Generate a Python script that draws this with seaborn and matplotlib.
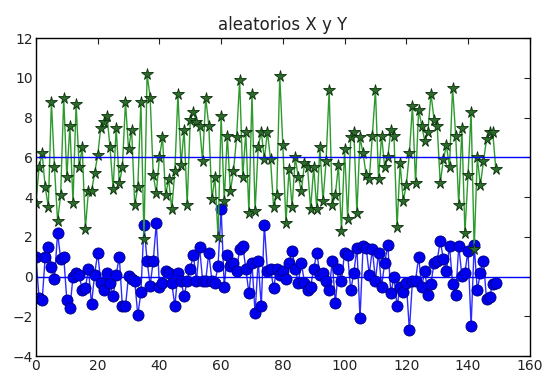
import numpy as np
import matplotlib
matplotlib.use("Agg")
import matplotlib.pyplot as plt
import seaborn as sns

# green series (stars)
serie_y = [3.7, 5.5, 6.2, 4.5, 3.5, 8.8, 5.5, 2.8, 4.1, 9.0,
           5.0, 7.6, 3.7, 8.7, 5.5, 6.5, 2.4, 4.3, 4.3, 5.2,
           6.1, 7.5, 7.8, 8.1, 6.5, 4.4, 7.5, 4.7,
           5.5, 8.8, 6.4, 7.4, 3.6, 4.5, 8.8, 1.9, 10.2, 9.0,
           5.1, 4.2, 6.0, 7.0, 4.1, 4.9, 3.4, 5.3, 9.2, 5.6,
           7.4, 3.6, 7.9, 8.3, 7.8, 7.6, 5.8,
           9.0, 7.6, 3.9, 5.0, 2.0, 8.1, 3.8, 7.1, 4.3, 5.3,
           7.0, 9.9, 5.0, 7.3, 3.2, 9.2, 3.3, 6.5, 7.3, 5.9,
           7.3, 5.9, 3.5, 4.1, 10.1, 6.6, 2.7, 5.4,
           3.5, 6.0, 5.0, 4.3, 5.7, 5.5, 3.4, 5.5, 3.4, 6.5,
           3.8, 5.8, 9.4, 3.6, 4.1, 5.6, 2.3, 6.4, 2.9, 7.0,
           7.3, 3.2, 7.0, 6.2, 5.1, 4.9, 7.1, 9.4,
           4.9, 7.1, 5.5, 6.0, 7.4, 7.1, 2.5, 5.7, 3.8, 4.6,
           6.2, 8.6, 4.7, 8.4, 7.6, 6.8, 7.3, 9.2, 7.9, 7.6,
           4.7, 5.9, 6.6, 5.5,
           9.5, 7.1, 3.6, 7.5, 2.2, 5.1, 8.3, 1.4, 6.0, 4.6,
           5.8, 6.9, 7.3, 7.3, 5.4]

# blue series (circles)
serie_x = [1.0, -1.1, -1.2, 1.0, 1.5, 0.5, -0.1, 2.2, 0.9, 1.0,
           -1.2, -1.6, 0.0, 0.2, 0.1, -0.7, -0.6, 0.4, -1.4, 0.1,
           1.2, -0.3, -0.7, 0.2, -0.3, -1.0, 0.1, 1.0,
           -1.5, -1.5, 0.05, -0.1, -0.2, -1.95, -0.8, 2.6, 0.8, -0.45,
           0.8, 2.7, -0.5, -0.3, 0.3, 0.2, -0.3, -1.5, 0.2, -0.2,
           -1.0, -0.2, 0.4, 1.1, -0.2, 1.5,
           -0.2, -0.2, 1.2, -0.2, -0.3, 0.55, 3.4, -0.5, 1.1, 0.55,
           0.7, 0.3, 1.4, 1.55, 0.4, -0.85, 0.7, -1.85, 0.8, -1.5,
           2.6, 0.3, 0.4, -0.6, 0.4, 0.1, 0.3,
           -0.1, 0.7, 1.3, 0.4, -0.3, 0.7, -0.3, -0.7, -0.5, 0.4,
           1.2, 0.1, 0.2, -0.2, -0.7, 0.8, -1.35, 0.4, -0.2, 1.2,
           1.1, -0.7, 0.2, 1.45, -2.1, 1.55, 1.45, 0.1,
           1.4, -0.2, 1.2, -0.5, 0.7, 1.6, -0.85, 0.0, -1.5, -0.5,
           -0.8, -0.3, -2.7, -0.2, -0.2, 1.0, -0.5, 0.3, -0.95, -0.35,
           0.7, 0.8, 1.8, 0.9, 0.3, 1.55,
           -0.35, -0.95, 1.55, 0.05, 0.2, 1.3, -2.5, 1.6, -0.7, 0.2,
           0.8, -1.15, -1.05, -0.35, -0.3]

niveles = [0, 6]
titulo = "aleatorios X y Y"

idx_y = np.arange(len(serie_y))
idx_x = np.arange(len(serie_x))

sns.set_style("white")
plt.rcParams['font.family'] = ['DejaVu Sans']

fig = plt.figure(figsize=(5.45, 3.74), dpi=100)
ax = fig.add_axes([0.066, 0.048, 0.906, 0.85])

sns.lineplot(x=idx_x, y=serie_x, ax=ax, color='#2b2bff', marker='o',
             markersize=8, markeredgecolor='#000080', markeredgewidth=0.6,
             markerfacecolor='#0000ee', linewidth=1.0)
sns.lineplot(x=idx_y, y=serie_y, ax=ax, color='#2e9a2e', marker='*',
             markersize=8.5, markeredgecolor='#0a300a', markeredgewidth=0.6,
             markerfacecolor='#2d6b2d', linewidth=1.0)

for n in niveles:
    ax.axhline(n, color='#0000ff', linewidth=1.0)

ax.set_xlim(0, 160)
ax.set_ylim(-4, 12)
ax.set_xticks(range(0, 161, 20))
ax.set_yticks(range(-4, 13, 2))
ax.tick_params(direction='in', top=True, right=True, length=4, labelsize=10,
               colors='#222222', pad=2)
for s in ax.spines.values():
    s.set_color('black')
    s.set_linewidth(1.0)
ax.set_title(titulo, fontsize=12, color='#222222')

fig.savefig('out.png', dpi=100)
